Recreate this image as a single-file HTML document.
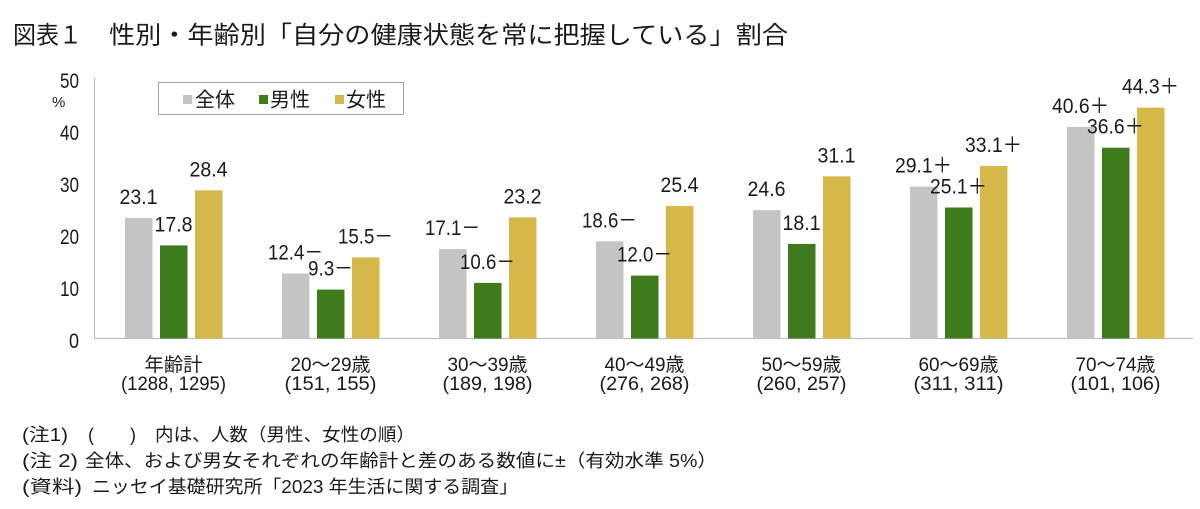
<!DOCTYPE html>
<html><head><meta charset="utf-8"><style>
html,body{margin:0;padding:0;background:#fff;}
svg{display:block;}
text{font-family:"Liberation Sans","Noto Sans CJK JP",sans-serif;fill:#1a1a1a;}
.t{font-family:"Noto Sans CJK JP","Liberation Sans",sans-serif;}
</style></head><body>
<svg width="1200" height="509" viewBox="0 0 1200 509" xmlns="http://www.w3.org/2000/svg">
<rect width="1200" height="509" fill="#fff"/>
<!-- title -->
<text class="t" x="13" y="43.5" font-size="24.3" textLength="69" lengthAdjust="spacingAndGlyphs">図表１</text>
<text class="t" x="109" y="43.5" font-size="24.3" textLength="679" lengthAdjust="spacingAndGlyphs">性別・年齢別「自分の健康状態を常に把握している」割合</text>

<!-- axes -->
<line x1="94.5" y1="78" x2="94.5" y2="338.5" stroke="#bfbfbf" stroke-width="1.2"/>
<line x1="94" y1="338.5" x2="1193" y2="338.5" stroke="#bfbfbf" stroke-width="1.2"/>

<!-- y ticks -->
<g font-size="21" text-anchor="end">
<text x="79" y="88" textLength="19" lengthAdjust="spacingAndGlyphs">50</text>
<text x="79" y="140" textLength="19" lengthAdjust="spacingAndGlyphs">40</text>
<text x="79" y="192" textLength="19" lengthAdjust="spacingAndGlyphs">30</text>
<text x="79" y="244" textLength="19" lengthAdjust="spacingAndGlyphs">20</text>
<text x="79" y="296" textLength="19" lengthAdjust="spacingAndGlyphs">10</text>
<text x="79" y="348" textLength="10" lengthAdjust="spacingAndGlyphs">0</text>
</g>
<text x="52" y="107" font-size="15">%</text>

<!-- legend -->
<rect x="158.5" y="82.5" width="245" height="32" fill="#fff" stroke="#a6a6a6" stroke-width="1"/>
<rect x="183" y="95" width="9" height="9" fill="#c4c4c4"/>
<text class="t" x="195" y="106.5" font-size="20">全体</text>
<rect x="259" y="95" width="9" height="9" fill="#3f7a1c"/>
<text class="t" x="270" y="106.5" font-size="20">男性</text>
<rect x="335" y="95" width="9" height="9" fill="#d6b84a"/>
<text class="t" x="346" y="106.5" font-size="20">女性</text>

<!-- bars -->
<g>
<rect x="125" y="217.9" width="27.5" height="120.6" fill="#c4c4c4"/>
<rect x="160" y="245.4" width="27.5" height="93.1" fill="#3f7a1c"/>
<rect x="195" y="190.3" width="27.5" height="148.2" fill="#d6b84a"/>

<rect x="282" y="273.5" width="27.5" height="65" fill="#c4c4c4"/>
<rect x="317" y="289.6" width="27.5" height="48.9" fill="#3f7a1c"/>
<rect x="352" y="257.4" width="27.5" height="81.1" fill="#d6b84a"/>

<rect x="439" y="249.1" width="27.5" height="89.4" fill="#c4c4c4"/>
<rect x="474" y="282.9" width="27.5" height="55.6" fill="#3f7a1c"/>
<rect x="509" y="217.4" width="27.5" height="121.1" fill="#d6b84a"/>

<rect x="596" y="241.3" width="27.5" height="97.2" fill="#c4c4c4"/>
<rect x="631" y="275.6" width="27.5" height="62.9" fill="#3f7a1c"/>
<rect x="666" y="205.9" width="27.5" height="132.6" fill="#d6b84a"/>

<rect x="753" y="210.1" width="27.5" height="128.4" fill="#c4c4c4"/>
<rect x="788" y="243.9" width="27.5" height="94.6" fill="#3f7a1c"/>
<rect x="823" y="176.3" width="27.5" height="162.2" fill="#d6b84a"/>

<rect x="910" y="186.7" width="27.5" height="151.8" fill="#c4c4c4"/>
<rect x="945" y="207.5" width="27.5" height="131" fill="#3f7a1c"/>
<rect x="980" y="165.9" width="27.5" height="172.6" fill="#d6b84a"/>

<rect x="1067" y="126.9" width="27.5" height="211.6" fill="#c4c4c4"/>
<rect x="1102" y="147.7" width="27.5" height="190.8" fill="#3f7a1c"/>
<rect x="1137" y="107.6" width="27.5" height="230.9" fill="#d6b84a"/>
</g>

<!-- value labels -->
<g font-size="21" text-anchor="middle">
<text x="138.5" y="204" textLength="38" lengthAdjust="spacingAndGlyphs">23.1</text>
<text x="173.5" y="231.4" textLength="38" lengthAdjust="spacingAndGlyphs">17.8</text>
<text x="208.5" y="176.3" textLength="38" lengthAdjust="spacingAndGlyphs">28.4</text>

<text x="295.5" y="259.5" textLength="55" lengthAdjust="spacingAndGlyphs">12.4－</text>
<text x="330.5" y="275.6" textLength="45" lengthAdjust="spacingAndGlyphs">9.3－</text>
<text x="365.5" y="243.4" textLength="55" lengthAdjust="spacingAndGlyphs">15.5－</text>

<text x="452.5" y="235.1" textLength="55" lengthAdjust="spacingAndGlyphs">17.1－</text>
<text x="487.5" y="268.9" textLength="55" lengthAdjust="spacingAndGlyphs">10.6－</text>
<text x="522.5" y="203.4" textLength="38" lengthAdjust="spacingAndGlyphs">23.2</text>

<text x="609.5" y="227.3" textLength="55" lengthAdjust="spacingAndGlyphs">18.6－</text>
<text x="644.5" y="261.6" textLength="55" lengthAdjust="spacingAndGlyphs">12.0－</text>
<text x="679.5" y="191.9" textLength="38" lengthAdjust="spacingAndGlyphs">25.4</text>

<text x="766.5" y="196.1" textLength="38" lengthAdjust="spacingAndGlyphs">24.6</text>
<text x="801.5" y="229.9" textLength="38" lengthAdjust="spacingAndGlyphs">18.1</text>
<text x="836.5" y="162.3" textLength="38" lengthAdjust="spacingAndGlyphs">31.1</text>

<text x="923.5" y="172.7" textLength="57" lengthAdjust="spacingAndGlyphs">29.1＋</text>
<text x="958.5" y="193.5" textLength="57" lengthAdjust="spacingAndGlyphs">25.1＋</text>
<text x="993.5" y="151.9" textLength="57" lengthAdjust="spacingAndGlyphs">33.1＋</text>

<text x="1080.5" y="112.9" textLength="57" lengthAdjust="spacingAndGlyphs">40.6＋</text>
<text x="1115.5" y="133.7" textLength="57" lengthAdjust="spacingAndGlyphs">36.6＋</text>
<text x="1150.5" y="93.6" textLength="57" lengthAdjust="spacingAndGlyphs">44.3＋</text>
</g>

<!-- category labels -->
<g font-size="19" text-anchor="middle">
<text x="173.5" y="371" textLength="58" lengthAdjust="spacingAndGlyphs">年齢計</text>
<text x="173.5" y="390" textLength="105" lengthAdjust="spacingAndGlyphs">(1288, 1295)</text>
<text x="330.5" y="371" textLength="80" lengthAdjust="spacingAndGlyphs">20～29歳</text>
<text x="330.5" y="390" textLength="92" lengthAdjust="spacingAndGlyphs">(151, 155)</text>
<text x="487.5" y="371" textLength="80" lengthAdjust="spacingAndGlyphs">30～39歳</text>
<text x="487.5" y="390" textLength="90" lengthAdjust="spacingAndGlyphs">(189, 198)</text>
<text x="644.5" y="371" textLength="80" lengthAdjust="spacingAndGlyphs">40～49歳</text>
<text x="644.5" y="390" textLength="90" lengthAdjust="spacingAndGlyphs">(276, 268)</text>
<text x="801.5" y="371" textLength="80" lengthAdjust="spacingAndGlyphs">50～59歳</text>
<text x="801.5" y="390" textLength="90" lengthAdjust="spacingAndGlyphs">(260, 257)</text>
<text x="958.5" y="371" textLength="80" lengthAdjust="spacingAndGlyphs">60～69歳</text>
<text x="958.5" y="390" textLength="90" lengthAdjust="spacingAndGlyphs">(311, 311)</text>
<text x="1115.5" y="371" textLength="80" lengthAdjust="spacingAndGlyphs">70～74歳</text>
<text x="1115.5" y="390" textLength="90" lengthAdjust="spacingAndGlyphs">(101, 106)</text>
</g>

<!-- notes -->
<g font-size="18">
<text x="22" y="441" textLength="46" lengthAdjust="spacingAndGlyphs">(注1)</text>
<text x="88" y="441">(</text>
<text x="130" y="441">)</text>
<text x="155" y="441" textLength="260" lengthAdjust="spacingAndGlyphs">内は、人数（男性、女性の順）</text>

<text x="22" y="467" textLength="56" lengthAdjust="spacingAndGlyphs">(注 2)</text>
<text x="85" y="467" textLength="632" lengthAdjust="spacingAndGlyphs">全体、および男女それぞれの年齢計と差のある数値に±（有効水準 5%）</text>

<text x="22" y="493" textLength="60" lengthAdjust="spacingAndGlyphs">(資料)</text>
<text x="92" y="493" textLength="426" lengthAdjust="spacingAndGlyphs">ニッセイ基礎研究所「2023 年生活に関する調査」</text>
</g>
</svg>
</body></html>
